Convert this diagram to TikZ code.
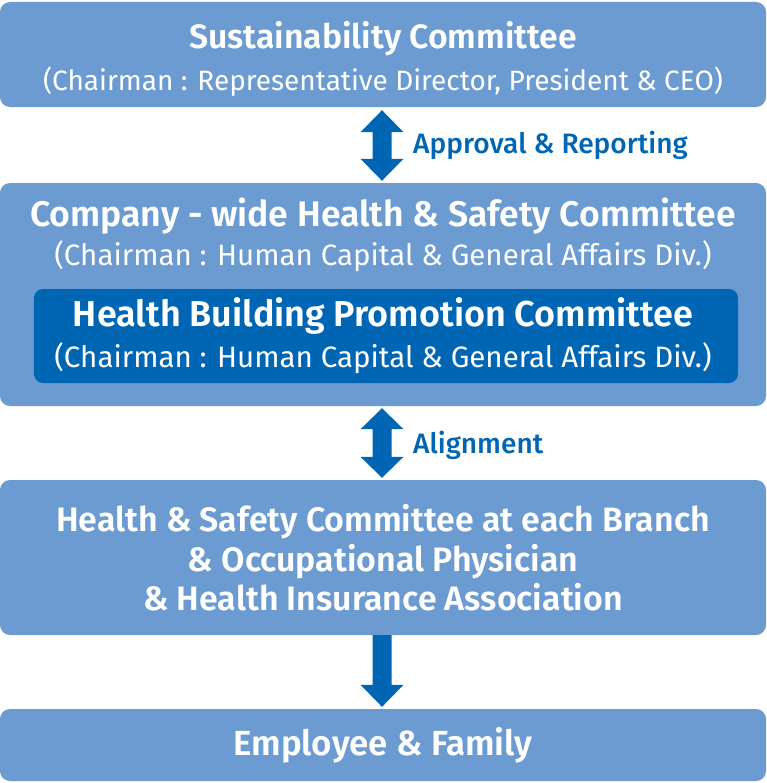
\documentclass[tikz,border=0pt]{standalone}
\usepackage{fontspec}
\setmainfont{Fira Sans}[BoldFont={Fira Sans SemiBold}]
\newfontfamily\medfont{Fira Sans Medium}
\usetikzlibrary{calc}
\definecolor{lightblue}{RGB}{107,155,209}
\definecolor{darkblue}{RGB}{0,102,179}
\newcommand\fsz[1]{\fontsize{#1}{#1}\selectfont}
\begin{document}
\begin{tikzpicture}[x=1bp,y=-1bp,
  box/.style={fill=lightblue, rounded corners=10bp, inner sep=0, draw=none},
  inbox/.style={fill=darkblue, rounded corners=9bp, inner sep=0, draw=none},
  ttl/.style={text=white, font=\bfseries, anchor=base, inner sep=0},
  sub/.style={text=white, anchor=base, inner sep=0},
  lbl/.style={text=darkblue, font=\medfont\fsz{28.2}, anchor=base west, inner sep=0},
  blockarrow/.style={fill=darkblue, draw=none}]
\useasboundingbox (0,0) rectangle (767,783);
% boxes
\node[box, minimum width=766bp, minimum height=105bp] (b1) at (383,54.5) {};
\node[box, minimum width=766bp, minimum height=223bp] (b2) at (383,294.5) {};
\node[inbox, minimum width=704bp, minimum height=94bp] (b2in) at (386,336) {};
\node[box, minimum width=766bp, minimum height=155bp] (b3) at (383,557.5) {};
\node[box, minimum width=766bp, minimum height=72bp] (b4) at (383,745) {};
% texts
\node[ttl] (t1) at (383,48.5) {\fsz{33.9}Sustainability Committee};
\node[sub] (s1) at (383,90) {\fsz{28.1}(Chairman : Representative Director, President \& CEO)};
\node[ttl] (t2) at (383,226.5) {\fsz{35.7}Company - wide Health \& Safety Committee};
\node[sub] (s2) at (383,265.5) {\fsz{29.6}(Chairman : Human Capital \& General Affairs Div.)};
\node[ttl] (t3) at (383,326.5) {\fsz{36.1}Health Building Promotion Committee};
\node[sub] (s3) at (383,367) {\fsz{29.6}(Chairman : Human Capital \& General Affairs Div.)};
\node[ttl] (t4a) at (383,531.5) {\fsz{34}Health \& Safety Committee at each Branch};
\node[ttl] (t4b) at (383,571.5) {\fsz{34}\& Occupational Physician};
\node[ttl] (t4c) at (383,610) {\fsz{34}\& Health Insurance Association};
\node[ttl] (t5) at (383,755) {\fsz{35}Employee \& Family};
% arrows
\coordinate (a1t) at ($(b1.south)+(-1,3)$);
\coordinate (a1b) at ($(b2.north)+(-1,-2)$);
\coordinate (a2t) at ($(b2.south)+(-1,2)$);
\coordinate (a2b) at ($(b3.north)+(-1,-2)$);
\coordinate (a3t) at ($(b3.south)+(-1,0)$);
\coordinate (a3b) at ($(b4.north)+(-1,-2)$);
\fill[blockarrow] (a1t) -- ++(21.5,22) -- ++(-12,0) -- ($(a1b)+(9.5,-22)$) -- ++(12,0) -- (a1b) -- ++(-21.5,-22) -- ++(12,0) -- ($(a1t)+(-9.5,22)$) -- ++(-12,0) -- cycle;
\fill[blockarrow] (a2t) -- ++(21.5,21) -- ++(-12,0) -- ($(a2b)+(9.5,-21)$) -- ++(12,0) -- (a2b) -- ++(-21.5,-21) -- ++(12,0) -- ($(a2t)+(-9.5,21)$) -- ++(-12,0) -- cycle;
\fill[blockarrow] ($(a3t)+(-9.5,0)$) -- ($(a3t)+(9.5,0)$) -- ($(a3b)+(9.5,-22)$) -- ++(12,0) -- (a3b) -- ++(-21.5,-22) -- ++(12,0) -- cycle;
% labels
\node[lbl] (l1) at (413,153) {Approval \& Reporting};
\node[lbl] (l2) at (413,453) {Alignment};
\end{tikzpicture}
\end{document}
